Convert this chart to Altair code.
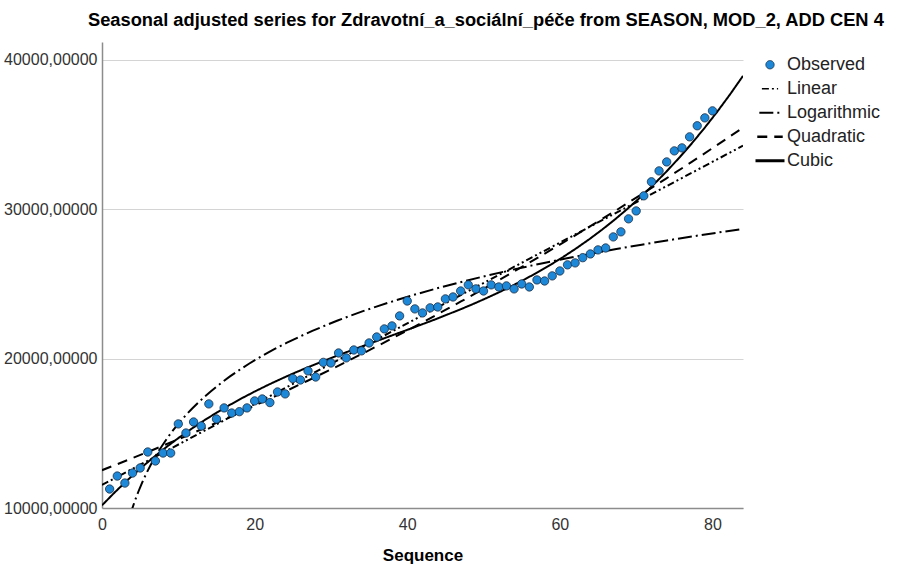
import altair as alt
import pandas as pd

# Observed seasonally adjusted values by sequence number
seq = list(range(1, 81))
observed = [11270, 12140, 11670, 12340, 12680, 13750, 13150, 13680, 13680, 15630,
            15020, 15760, 15490, 16970, 15960, 16700, 16360, 16450, 16700, 17170,
            17300, 17060, 17770, 17640, 18670, 18570, 19180, 18770, 19750, 19710,
            20380, 20050, 20580, 20520, 21050, 21450, 21990, 22190, 22860, 23860,
            23330, 23060, 23400, 23460, 24000, 24130, 24530, 24940, 24670, 24530,
            24940, 24800, 24870, 24670, 25000, 24800, 25270, 25200, 25540, 25870,
            26280, 26410, 26760, 27010, 27280, 27410, 28150, 28490, 29360, 29890,
            30900, 31840, 32570, 33170, 33910, 34110, 34850, 35590, 36120, 36590]

series_names = ["Observed", "Linear", "Logarithmic", "Quadratic", "Cubic"]
shapes = ["circle", "stroke", "stroke", "stroke", "stroke"]
fills = ["#1e88d8", "transparent", "transparent", "transparent", "transparent"]
strokes = ["#1b2f45", "black", "black", "black", "black"]
stroke_widths = [0.8, 3, 3, 3, 3]
sizes = [70, 841, 841, 841, 841]
dashes = [[1, 0], [7, 3, 2, 3, 2, 3], [14, 4, 2, 4], [10, 7], [1, 0]]

y_ticks = [10000, 20000, 30000, 40000]
x_ticks = [0, 20, 40, 60, 80]

FONT = "Liberation Sans"

df = pd.DataFrame({"Sequence": seq, "Value": observed, "series": "Observed"})

legend = alt.Legend(
    title=None, orient="none", legendX=652, legendY=12, padding=0,
    labelFont=FONT, labelFontSize=18, labelColor="#222",
    clipHeight=21.5, rowPadding=2, labelOffset=1,
)

x_enc = alt.X(
    "Sequence:Q",
    scale=alt.Scale(domain=[0, 84], nice=False, zero=False),
    axis=alt.Axis(values=x_ticks, title="Sequence", grid=False, ticks=False,
                  labelFlush=False, labelPadding=8, titlePadding=15, format="d"),
)
y_enc = alt.Y(
    "Value:Q",
    scale=alt.Scale(domain=[10000, 41200], nice=False, zero=False),
    axis=alt.Axis(values=y_ticks, title=None, grid=True, ticks=False,
                  labelPadding=5, labelFlush=False,
                  labelExpr="format(datum.value, 'd') + ',00000'"),
)

base = alt.Chart(df)

points = base.mark_point(filled=True, opacity=1).encode(
    x=x_enc,
    y=y_enc,
    shape=alt.Shape("series:N", scale=alt.Scale(domain=series_names, range=shapes), legend=legend),
    fill=alt.Fill("series:N", scale=alt.Scale(domain=series_names, range=fills), legend=legend),
    stroke=alt.Stroke("series:N", scale=alt.Scale(domain=series_names, range=strokes), legend=legend),
    strokeWidth=alt.StrokeWidth("series:N", scale=alt.Scale(domain=series_names, range=stroke_widths), legend=legend),
    size=alt.Size("series:N", scale=alt.Scale(domain=series_names, range=sizes), legend=legend),
)


def fitted(name, extent, **kw):
    return (
        base.transform_regression("Sequence", "Value", extent=extent, **kw)
        .transform_calculate(series=f"'{name}'")
        .mark_line(color="black", strokeWidth=2, clip=True)
        .encode(
            x="Sequence:Q",
            y="Value:Q",
            strokeDash=alt.StrokeDash("series:N",
                                      scale=alt.Scale(domain=series_names, range=dashes),
                                      legend=legend),
        )
    )


lin = fitted("Linear", [0, 84], method="linear")
log = fitted("Logarithmic", [1, 84], method="log")
quad = fitted("Quadratic", [0, 84], method="poly", order=2)
cub = fitted("Cubic", [0, 84], method="poly", order=3)

chart = (
    alt.layer(lin, log, quad, cub, points)
    .properties(
        width=641,
        height=466,
        autosize=alt.AutoSizeParams(type="none"),
        padding={"left": 102, "top": 42, "right": 161, "bottom": 62},
        title=alt.TitleParams(
            "Seasonal adjusted series for Zdravotní_a_sociální_péče from SEASON, MOD_2, ADD CEN 4",
            font=FONT, fontSize=18.3, fontWeight="bold", color="black",
            anchor="start", frame="group", dx=-14, offset=12,
        ),
    )
    .configure_view(stroke=None)
    .configure_axis(
        labelFont=FONT, labelFontSize=16, labelColor="#333",
        titleFont=FONT, titleFontSize=17, titleFontWeight="bold", titleColor="black",
        domainColor="#8c8c8c", domainWidth=1.5, gridColor="#d4d4d4", gridWidth=1.2,
    )
)

chart.save("out.html", embed_options={"renderer": "svg", "actions": False})
